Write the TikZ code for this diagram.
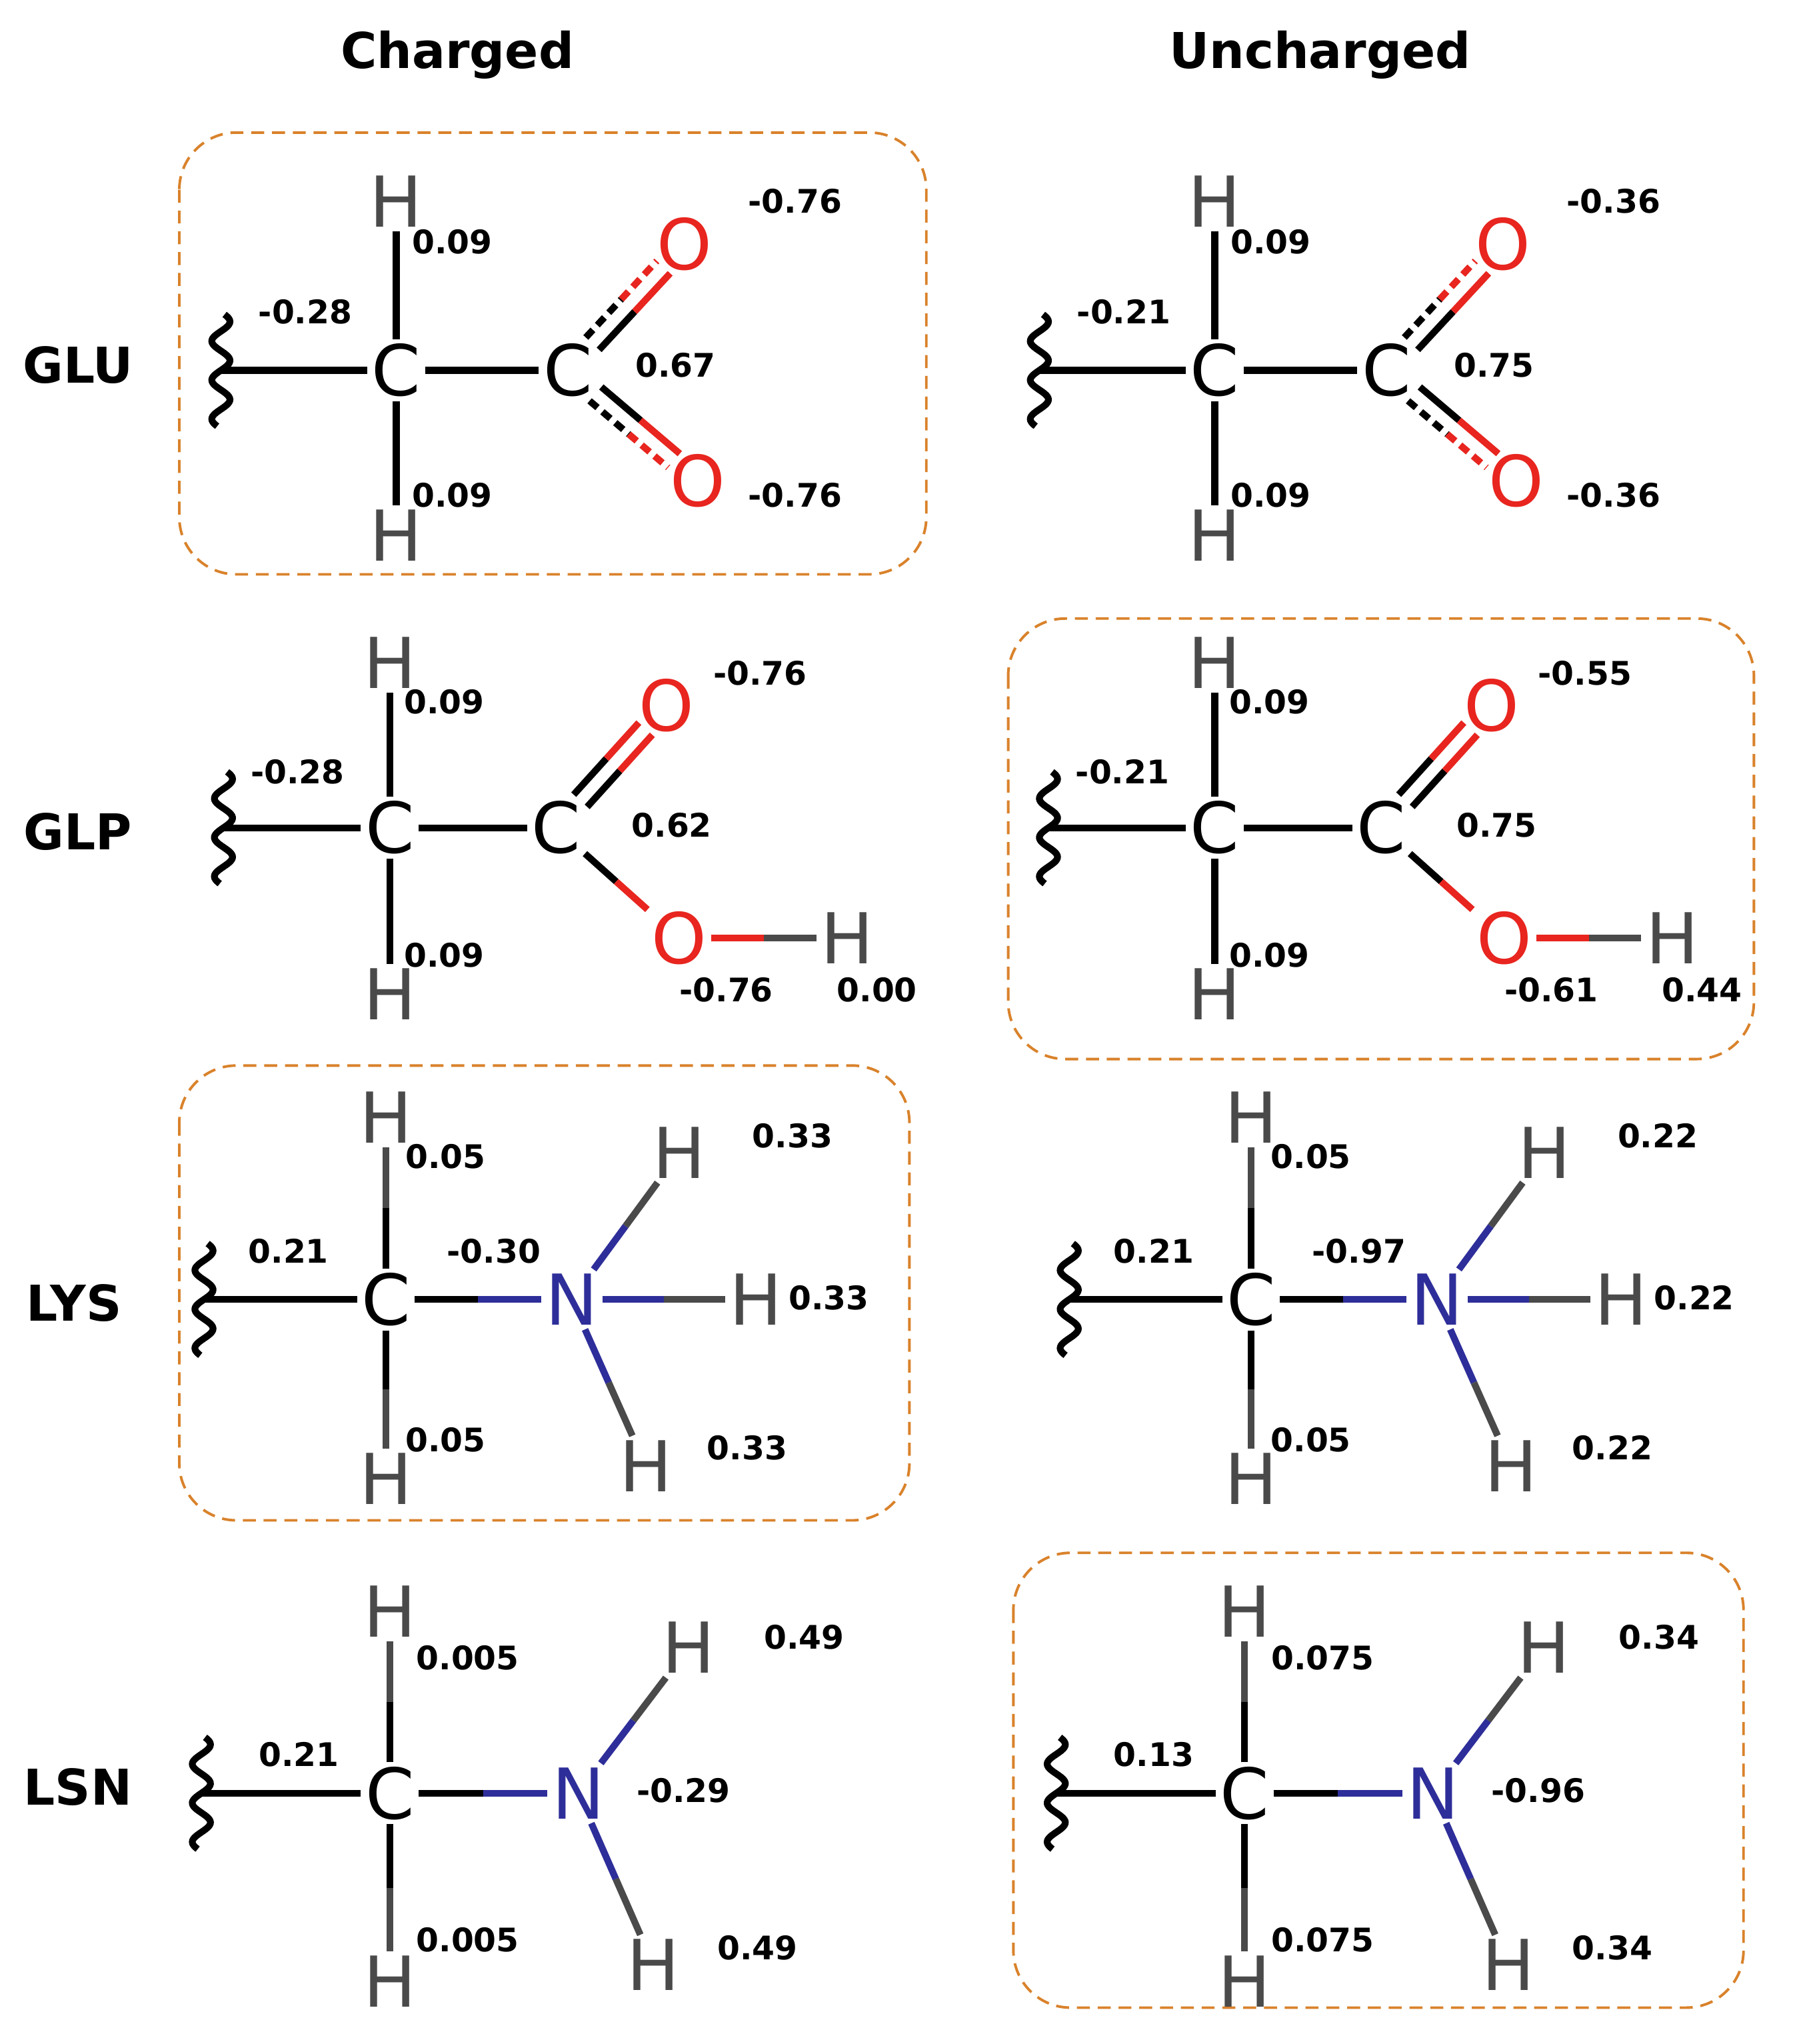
\documentclass[tikz,border=0pt]{standalone}
\usepackage{fontspec}
\setmainfont{DejaVu Sans}
\usetikzlibrary{calc}
\definecolor{cO}{HTML}{E8251F}
\definecolor{cN}{HTML}{2E2E9A}
\definecolor{cH}{HTML}{4A4A4A}
\definecolor{box}{HTML}{D9822B}
\tikzset{
 atm/.style={inner sep=1.5pt,font=\fontsize{27}{27}\selectfont},
 lb/.style={inner sep=0pt,font=\fontsize{12.5}{13}\selectfont\bfseries},
 rl/.style={inner sep=0pt,font=\fontsize{19}{20}\selectfont\bfseries},
 bd/.style={line width=2.6pt},
 bx/.style={draw=box,line width=1pt,rounded corners=22pt,dash pattern=on 5pt off 3pt},
 wv/.style={line width=2.6pt}
}
\newcommand\bnd[4]{\path (#1) -- (#2) coordinate[pos=.5] (mid); \draw[bd,#3] (#1) -- (mid); \draw[bd,#4] (mid) -- (#2);}
\newcommand\dbl[4]{%
 \coordinate (s) at ($(#1.center)!14pt!(#2.center)$);
 \coordinate (e) at ($(#2.center)!12pt!(#1.center)$);
 \coordinate (sa) at ($(s)!3.5pt!#4:(e)$); \coordinate (ea) at ($(e)!3.5pt!-#4:(s)$);
 \coordinate (sb) at ($(s)!-3.5pt!#4:(e)$); \coordinate (eb) at ($(e)!-3.5pt!-#4:(s)$);
 \draw[bd] (sa) -- ($(sa)!.5!(ea)$); \draw[bd,cO] ($(sa)!.5!(ea)$) -- (ea);
 \draw[bd,#3] (sb) -- ($(sb)!.5!(eb)$); \draw[bd,cO,#3] ($(sb)!.5!(eb)$) -- (eb);}
\newcommand\wavy[1]{\draw[wv] plot[domain=-43:43,samples=80] ({#1+7*sin(\x*360/30)},\x); \coordinate (W) at (#1,0);}
\newcommand\glu[8]{%
 \node[atm] (C1) at (0,0) {C}; \node[atm,cH] (Ht) at (0,130) {H}; \node[atm,cH] (Hb) at (0,-127) {H};
 \node[atm] (C2) at (132,0) {C}; \node[atm,cO] (O1) at (222,97) {O}; \node[atm,cO] (O2) at (232,-85) {O};
 \wavy{-135}
 \draw[bd] (W) -- (C1); \bnd{C1}{Ht}{black}{black}\bnd{C1}{Hb}{black}{black}\draw[bd] (C1)--(C2);
 \dbl{C2}{O1}{dash pattern=on 4pt off 2.5pt}{-90}\dbl{C2}{O2}{dash pattern=on 4pt off 2.5pt}{90}
 \node[lb] at (-70,45) {#1}; \node[lb] at (43,99) {#2}; \node[lb] at (43,-96) {#3};
 \node[lb] at (215,4) {#4}; \node[lb] at (307,130) {#5}; \node[lb] at (307,-96) {#6};}
\newcommand\glp[8]{%
 \node[atm] (C1) at (0,0) {C}; \node[atm,cH] (Ht) at (0,127) {H}; \node[atm,cH] (Hb) at (0,-128) {H};
 \node[atm] (C2) at (128,0) {C}; \node[atm,cO] (O1) at (213,94) {O}; \node[atm,cO] (O2) at (223,-85) {O};
 \node[atm,cH] (H3) at (352,-85) {H};
 \wavy{-128}
 \draw[bd] (W) -- (C1); \bnd{C1}{Ht}{black}{black}\bnd{C1}{Hb}{black}{black}\draw[bd] (C1)--(C2);
 \dbl{C2}{O1}{}{90}\bnd{C2}{O2}{black}{cO}\bnd{O2}{H3}{cO}{cH}
 \node[lb] at (-71,43) {#1}; \node[lb] at (42,97) {#2}; \node[lb] at (42,-98) {#3};
 \node[lb] at (217,2) {#4}; \node[lb] at (285,119) {#5}; \node[lb] at (259,-125) {#6}; \node[lb] at (375,-125) {#7};}
\newcommand\lys[8]{%
 \node[atm] (C1) at (0,0) {C}; \node[atm,cH] (Ht) at (0,140) {H}; \node[atm,cH] (Hb) at (0,-138) {H};
 \node[atm,cN] (N) at (143,0) {N}; \node[atm,cH] (H1) at (226,113) {H}; \node[atm,cH] (H2) at (285,0) {H}; \node[atm,cH] (H3) at (200,-128) {H};
 \wavy{-140}
 \draw[bd] (W) -- (C1); \bnd{C1}{Ht}{black}{cH}\bnd{C1}{Hb}{black}{cH}\bnd{C1}{N}{black}{cN}
 \bnd{N}{H1}{cN}{cH}\bnd{N}{H2}{cN}{cH}\bnd{N}{H3}{cN}{cH}
 \node[lb] at (-75,37) {#1}; \node[lb] at (83,37) {#2}; \node[lb] at (46,110) {#3}; \node[lb] at (46,-108) {#4};
 \node[lb] at (313,126) {#5}; \node[lb] at (341,1) {#6}; \node[lb] at (278,-114) {#7};}
\newcommand\lsn[8]{%
 \node[atm] (C1) at (0,0) {C}; \node[atm,cH] (Ht) at (0,140) {H}; \node[atm,cH] (Hb) at (0,-145) {H};
 \node[atm,cN] (N) at (145,0) {N}; \node[atm,cH] (H1) at (230,112) {H}; \node[atm,cH] (H3) at (203,-132) {H};
 \wavy{-145}
 \draw[bd] (W) -- (C1); \bnd{C1}{Ht}{black}{cH}\bnd{C1}{Hb}{black}{cH}\bnd{C1}{N}{black}{cN}
 \bnd{N}{H1}{cN}{cH}\bnd{N}{H3}{cN}{cH}
 \node[lb] at (-70,30) {#1}; \node[lb] at (60,104) {#2}; \node[lb] at (60,-113) {#3};
 \node[lb] at (319,120) {#4}; \node[lb] at (226,2) {#5}; \node[lb] at (283,-119) {#6};}
\begin{document}
\begin{tikzpicture}[x=0.5pt,y=0.5pt]
\fill[white] (0,0) rectangle (1380,-1573);
\useasboundingbox (0,0) rectangle (1380,-1573);
\node[rl] (hc) at (352,-42) {Charged};
\node[rl] (hu) at (1016,-42) {Uncharged};
\node[rl] (r1) at (60,-281) {GLU};
\node[rl] (r2) at (60,-640) {GLP};
\node[rl] (r3) at (57,-1003) {LYS};
\node[rl] (r4) at (60,-1375) {LSN};
\draw[bx] (138,-102) rectangle (713,-442);
\draw[bx] (776,-476) rectangle (1350,-815);
\draw[bx] (138,-820) rectangle (700,-1170);
\draw[bx] (780,-1195) rectangle (1342,-1545);
\begin{scope}[shift={(305,-285)},name prefix=a-]\glu{-0.28}{0.09}{0.09}{0.67}{-0.76}{-0.76}{}{}\end{scope}
\begin{scope}[shift={(935,-285)},name prefix=b-]\glu{-0.21}{0.09}{0.09}{0.75}{-0.36}{-0.36}{}{}\end{scope}
\begin{scope}[shift={(300,-637)},name prefix=c-]\glp{-0.28}{0.09}{0.09}{0.62}{-0.76}{-0.76}{0.00}{}\end{scope}
\begin{scope}[shift={(935,-637)},name prefix=d-]\glp{-0.21}{0.09}{0.09}{0.75}{-0.55}{-0.61}{0.44}{}\end{scope}
\begin{scope}[shift={(297,-1000)},name prefix=e-]\lys{0.21}{-0.30}{0.05}{0.05}{0.33}{0.33}{0.33}{}\end{scope}
\begin{scope}[shift={(963,-1000)},name prefix=f-]\lys{0.21}{-0.97}{0.05}{0.05}{0.22}{0.22}{0.22}{}\end{scope}
\begin{scope}[shift={(300,-1380)},name prefix=g-]\lsn{0.21}{0.005}{0.005}{0.49}{-0.29}{0.49}{}{}\end{scope}
\begin{scope}[shift={(958,-1380)},name prefix=h-]\lsn{0.13}{0.075}{0.075}{0.34}{-0.96}{0.34}{}{}\end{scope}
\end{tikzpicture}
\end{document}
